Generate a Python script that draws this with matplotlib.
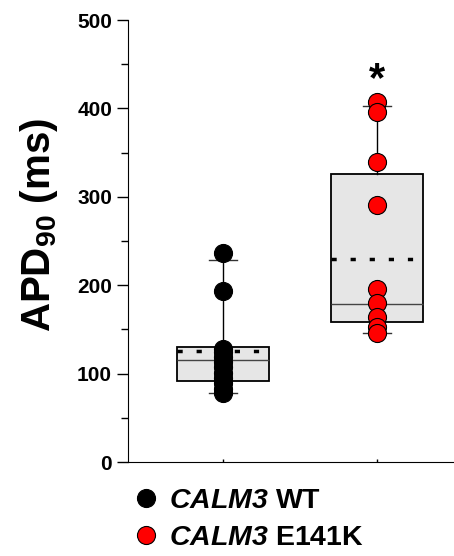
import numpy as np
import matplotlib
matplotlib.use("Agg")
import matplotlib.pyplot as plt
from matplotlib.lines import Line2D

plt.rcParams['font.family'] = 'Liberation Sans'
plt.rcParams['font.weight'] = 'bold'
plt.rcParams['mathtext.fontset'] = 'custom'
plt.rcParams['mathtext.rm'] = 'Liberation Sans:bold'
plt.rcParams['mathtext.sf'] = 'Liberation Sans:italic:bold'
plt.rcParams['mathtext.bf'] = 'Liberation Sans:bold'

# data
groups = ['WT', 'E141K']
colors = ['black', '#ff0000']
wt_points = [236, 193, 128, 124, 119, 113, 107, 101, 95, 89, 83, 78]
e141k_points = [407, 396, 339, 291, 196, 180, 164, 153, 146]

# box stats (whiskers are 10th/90th percentile, dotted line = mean)
q1 = [92, 158]
med = [115, 179]
q3 = [130, 326]
whislo = [78, 146]
whishi = [228, 403]
means = [126, 230]

fig = plt.figure(figsize=(4.54, 5.56), dpi=100)
ax = fig.add_axes([128/454, 1 - 462/556, 1 - 128/454, 442/556])

stats = []
for i in range(2):
    stats.append(dict(q1=q1[i], med=med[i], q3=q3[i], whislo=whislo[i],
                      whishi=whishi[i], mean=means[i], fliers=[], label=groups[i]))

ax.bxp(stats, positions=[1, 2], widths=0.6, patch_artist=True, showmeans=True,
       meanline=True, showfliers=False, capwidths=0.18,
       boxprops=dict(facecolor='#e6e6e6', edgecolor='black', linewidth=1.3),
       medianprops=dict(color='#444444', linewidth=1.0),
       meanprops=dict(color='black', linestyle=(0, (1.5, 4)), linewidth=2.5),
       whiskerprops=dict(color='black', linewidth=1.0),
       capprops=dict(color='#333333', linewidth=1.0), zorder=2)

for i, pts in enumerate([wt_points, e141k_points]):
    ax.plot(np.full(len(pts), i + 1), pts, 'o', ms=13, mfc=colors[i],
            mec='black', mew=0.8, zorder=4, clip_on=False)

# significance mark
ax.text(2, 432, '*', ha='center', va='center', fontsize=30, fontweight='bold')

ax.set_xlim(0.38, 2.5)
ax.set_ylim(0, 500)
ax.set_yticks(np.arange(0, 501, 100))
ax.set_yticks(np.arange(50, 500, 100), minor=True)
ax.tick_params(axis='y', which='major', direction='out', length=8, width=1, labelsize=15)
ax.tick_params(axis='y', which='minor', direction='out', length=5, width=1)
ax.set_xticks([1, 2])
ax.set_xticklabels([])
ax.tick_params(axis='x', direction='in', length=2, width=1)
ax.spines['top'].set_visible(False)
ax.spines['right'].set_visible(False)
ax.set_ylabel(r'APD$_{\mathrm{90}}$ (ms)', fontsize=29, fontweight='bold')
ax.yaxis.set_label_coords(-0.208, 0.536)

handles = [Line2D([], [], ls='', marker='o', ms=13, mfc=c, mec='black', mew=0.8) for c in colors]
labels = [r'$\mathsf{CALM3}$ WT', r'$\mathsf{CALM3}$ E141K']
fig.legend(handles, labels, loc='upper left', bbox_to_anchor=(135/454, 1 - 488/556),
           frameon=False, fontsize=20.5, handlelength=0.75, handletextpad=0.45,
           labelspacing=0.38, borderpad=0, borderaxespad=0)

fig.savefig('out.png', dpi=100)
